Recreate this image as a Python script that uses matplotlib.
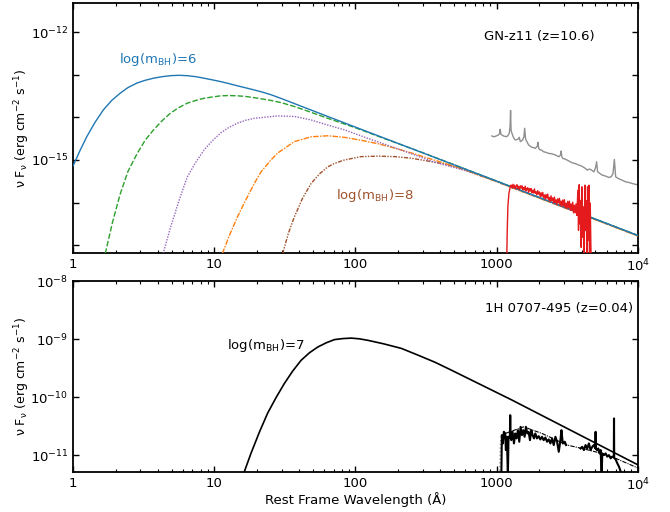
import numpy as np
import matplotlib
matplotlib.use("Agg")
import matplotlib.pyplot as plt
from matplotlib.ticker import FixedLocator, LogLocator, NullLocator, NullFormatter

# disc models for GN-z11, wavelength (A) vs nu F_nu
lam_m6 = [1.0, 1.12, 1.25, 1.43, 1.64, 1.88, 2.16, 2.45, 2.84, 3.24, 3.72, 4.27, 4.9, 5.62, 6.44, 7.41,
          8.45, 9.66, 11.1, 12.7, 14.6, 16.6, 19.2, 22, 25.2, 30, 40, 100, 1000, 1e4]
flux_m6 = [7.2e-16, 1.66e-15, 3.5e-15, 7.6e-15, 1.5e-14, 2.5e-14, 3.7e-14, 5.0e-14, 6.4e-14, 7.4e-14,
           8.3e-14, 9.0e-14, 9.5e-14, 9.7e-14, 9.5e-14, 9.0e-14, 8.3e-14, 7.6e-14, 6.9e-14, 6.2e-14,
           5.5e-14, 4.95e-14, 4.4e-14, 3.9e-14, 3.4e-14, 2.75e-14, 1.9e-14, 5.9e-15, 3.2e-16, 1.7e-17]

lam_m65 = [1.69, 1.905, 2.16, 2.45, 2.84, 3.24, 3.72, 4.27, 4.9, 5.62, 6.44, 7.41, 8.45, 9.66, 11.1,
           12.7, 14.6, 16.6, 19.2, 25.2, 30, 36.9, 48, 63.7, 100, 150, 300, 1000, 1e4]
flux_m65 = [6.3e-18, 3.5e-17, 1.6e-16, 5.4e-16, 1.4e-15, 2.9e-15, 5.1e-15, 8.3e-15, 1.26e-14, 1.7e-14,
            2.15e-14, 2.5e-14, 2.8e-14, 3.0e-14, 3.2e-14, 3.25e-14, 3.2e-14, 3.1e-14, 2.9e-14, 2.5e-14,
            2.2e-14, 1.8e-14, 1.33e-14, 9.5e-15, 5.7e-15, 3.45e-15, 1.48e-15, 3.2e-16, 1.7e-17]

lam_m7 = [4.34, 4.9, 5.62, 6.44, 7.41, 8.45, 9.66, 11.1, 12.7, 14.6, 16.6, 19.2, 25.2, 28.1, 36.9,
          48.5, 63.7, 83.6, 123, 212, 363, 700, 1e4]
flux_m7 = [6.3e-18, 2.6e-17, 1.1e-16, 4.0e-16, 8.9e-16, 1.7e-15, 2.8e-15, 4.3e-15, 5.8e-15, 7.3e-15,
           8.5e-15, 9.5e-15, 1.04e-14, 1.08e-14, 1.05e-14, 8.7e-15, 6.6e-15, 5.1e-15, 3.2e-15, 1.7e-15,
           8.9e-16, 4.9e-16, 1.7e-17]

lam_m75 = [11.4, 12.9, 14.6, 16.6, 19.2, 21.4, 25.2, 28.1, 32.4, 36.9, 42.7, 48.5, 63.7, 83.6, 110,
           145, 190, 251, 328, 565, 1000, 1e4]
flux_m75 = [6.3e-18, 1.8e-17, 4.6e-17, 1.1e-16, 2.8e-16, 5.2e-16, 1.0e-15, 1.45e-15, 2.0e-15, 2.7e-15,
            3.1e-15, 3.5e-15, 3.7e-15, 3.4e-15, 2.9e-15, 2.4e-15, 1.9e-15, 1.45e-15, 1.1e-15, 6.3e-16,
            3.1e-16, 1.65e-17]

lam_m8 = [30.5, 33.5, 36.9, 42.2, 48.5, 55.6, 63.7, 71, 83.6, 110, 144, 190, 249, 328, 431, 565, 1000, 1e4]
flux_m8 = [6.3e-18, 1.9e-17, 4.6e-17, 1.26e-16, 2.8e-16, 4.7e-16, 6.9e-16, 8.3e-16, 1.0e-15, 1.2e-15,
           1.23e-15, 1.2e-15, 1.1e-15, 9.4e-16, 8.0e-16, 6.2e-16, 3.1e-16, 1.65e-17]

# quasar template (grey)
grey_spec = np.array([
    [924, 3.66e-15], [960, 3.5e-15], [1000, 3.7e-15], [1031, 3.87e-15], [1050, 4.2e-15], [1060, 5.26e-15],
    [1072, 4.0e-15], [1089, 3.87e-15], [1130, 3.6e-15], [1182, 3.53e-15], [1210, 3.9e-15], [1228, 4.23e-15],
    [1245, 6.0e-15], [1255, 1.45e-14], [1265, 5.0e-15], [1283, 4.23e-15], [1320, 3.3e-15], [1354, 2.95e-15],
    [1415, 3.06e-15], [1446, 3.4e-15], [1471, 2.69e-15], [1528, 2.95e-15], [1560, 3.5e-15], [1579, 5.55e-15],
    [1600, 3.3e-15], [1614, 2.95e-15], [1686, 2.25e-15], [1730, 2.1e-15], [1780, 1.98e-15], [1830, 1.95e-15],
    [1879, 1.87e-15], [1940, 2.1e-15], [1963, 2.60e-15], [1985, 1.9e-15], [2007, 1.77e-15], [2080, 1.7e-15],
    [2154, 1.56e-15], [2250, 1.5e-15], [2338, 1.43e-15], [2450, 1.4e-15], [2609, 1.31e-15], [2754, 1.19e-15],
    [2830, 1.3e-15], [2861, 1.62e-15], [2895, 1.2e-15], [2941, 1.09e-15], [3050, 1.05e-15], [3157, 9.95e-16],
    [3300, 9.2e-16], [3427, 8.6e-16], [3600, 8.2e-16], [3822, 7.6e-16], [4000, 7.2e-16], [4264, 6.3e-16],
    [4381, 5.78e-16], [4500, 6.1e-16], [4628, 6.0e-16], [4886, 5.28e-16], [5021, 6.68e-16], [5104, 9.08e-16],
    [5188, 5.28e-16], [5400, 4.8e-16], [5601, 4.41e-16], [5900, 4.2e-16], [6245, 3.88e-16], [6500, 4.1e-16],
    [6672, 4.82e-16], [6819, 1.03e-15], [6966, 4.02e-16], [7250, 3.7e-16], [7557, 3.48e-16], [8207, 3.07e-16],
    [8700, 2.95e-16], [9154, 2.80e-16], [10000, 2.6e-16]])

# GN-z11 spectrum (red), log10 of nu F_nu
red_lam = [1176, 1189, 1201, 1221, 1241, 1255,
           1270, 1290, 1305, 1322, 1340, 1358, 1375, 1393, 1412, 1430, 1450, 1470, 1490, 1510, 1530, 1552,
           1573, 1594, 1616, 1638, 1660, 1683, 1706, 1730, 1753, 1777, 1801, 1826, 1851, 1876, 1902, 1928,
           1954, 1981, 2008, 2035, 2063, 2091, 2120, 2149, 2178, 2208, 2238, 2269, 2300, 2331, 2363, 2395,
           2428, 2461, 2495, 2529, 2564, 2599, 2634, 2670, 2707, 2744, 2782, 2820, 2858, 2897, 2937, 2977,
           3018, 3059, 3101, 3143, 3186, 3230, 3274, 3319, 3364, 3410, 3457, 3504, 3552, 3601, 3650, 3700,
           3760, 3801, 3843, 3885, 3928, 3971, 4014, 4058, 4103, 4149, 4217, 4264, 4311, 4358, 4405, 4454,
           4502, 4551, 4602, 4651, 4702]
red_logflux = [-17.5, -16.65, -16.10, -15.79, -15.67, -15.60,
               -15.59, -15.66, -15.57, -15.65, -15.59, -15.68, -15.62, -15.58, -15.67, -15.62, -15.69,
               -15.605, -15.66, -15.605, -15.70, -15.645, -15.70, -15.615, -15.73, -15.675, -15.65, -15.76,
               -15.67, -15.73, -15.67, -15.77, -15.71, -15.775, -15.68, -15.78, -15.745, -15.82, -15.72,
               -15.80, -15.75, -15.86, -15.77, -15.85, -15.76, -15.88, -15.82, -15.92, -15.81, -15.895,
               -15.80, -15.94, -15.88, -15.975, -15.84, -15.95, -15.89, -16.01, -15.87, -16.00, -15.935,
               -16.05, -15.91, -16.005, -15.90, -16.06, -15.965, -16.09, -15.94, -16.07, -15.93, -16.11,
               -16.015, -16.14, -15.97, -16.12, -15.965, -16.18, -16.03, -16.18, -15.99, -16.24, -16.06,
               -16.24, -16.03, -16.30,
               -15.71, -16.65, -15.58, -16.50, -15.95, -17.05, -15.63, -16.81, -16.10, -17.20, -15.59,
               -16.65, -15.95, -17.5, -15.63, -16.89, -15.59, -17.5, -16.01, -17.05, -17.5]

# 1H 0707-495: disc model, second model and observed spectrum
lam_m7b = [15.5, 16.3, 18.2, 20.9, 23.9, 27.4, 31.3, 35.9, 41.2, 47.2, 54.1, 61.9, 71.0, 81.3, 93.3,
           107, 123, 158, 212, 282, 365, 480, 1283, 1e4]
flux_m7b = [3.6e-12, 5.1e-12, 1.07e-11, 2.5e-11, 5.3e-11, 9.8e-11, 1.7e-10, 2.8e-10, 4.3e-10, 5.8e-10,
            7.3e-10, 8.6e-10, 9.8e-10, 1.02e-9, 1.04e-9, 1.01e-9, 9.5e-10, 8.3e-10, 6.9e-10, 5.2e-10,
            4.0e-10, 2.9e-10, 8.9e-11, 6.8e-12]

lam_alt = [1150, 1553, 2096, 3157, 4036, 5303, 6966, 1e4]
flux_alt = [2.36e-11, 3.07e-11, 2.36e-11, 1.49e-11, 1.30e-11, 1.10e-11, 8.8e-12, 6.0e-12]

lam_faint = [1050, 1060, 1075]
flux_faint = [4e-12, 1.3e-11, 2.2e-11]

obs_seg1 = np.array([
    [1080, 4.5e-12], [1089, 2.21e-11], [1107, 1.59e-11], [1125, 2.52e-11], [1150, 2.36e-11], [1163, 1.22e-11],
    [1182, 2.07e-11], [1201, 4.5e-12], [1214, 2.07e-11], [1240, 2.0e-11], [1248, 4.88e-11], [1256, 2.0e-11],
    [1269, 1.81e-11], [1297, 2.52e-11], [1326, 1.59e-11], [1355, 2.36e-11], [1384, 1.94e-11], [1415, 2.69e-11],
    [1446, 1.70e-11], [1478, 3.07e-11], [1511, 2.21e-11], [1544, 2.69e-11], [1578, 2.07e-11], [1613, 3.07e-11],
    [1649, 2.36e-11], [1685, 2.52e-11], [1722, 1.81e-11], [1761, 2.69e-11], [1799, 2.21e-11], [1839, 1.94e-11],
    [1879, 2.36e-11], [1932, 1.94e-11], [1985, 2.12e-11], [2040, 1.86e-11], [2096, 2.07e-11], [2154, 1.81e-11],
    [2214, 2.01e-11], [2275, 1.70e-11], [2338, 1.86e-11], [2403, 1.59e-11], [2469, 1.94e-11], [2537, 1.49e-11],
    [2608, 2.07e-11], [2680, 1.70e-11], [2754, 1.14e-11], [2830, 1.81e-11], [2877, 2.69e-11], [2940, 1.59e-11],
    [3039, 1.70e-11], [3105, 1.49e-11]])

obs_seg2 = np.array([
    [3928, 1.30e-11], [4036, 1.39e-11], [4148, 1.22e-11], [4263, 1.49e-11], [4381, 1.30e-11], [4502, 1.59e-11],
    [4627, 1.22e-11], [4754, 1.39e-11], [4886, 1.49e-11], [5000, 1.3e-11], [5021, 2.52e-11], [5040, 1.3e-11],
    [5132, 1.22e-11], [5245, 1.30e-11], [5360, 1.07e-11], [5449, 1.22e-11], [5540, 4.5e-12], [5601, 1.07e-11],
    [5755, 1.00e-11], [5914, 1.07e-11], [6077, 9.4e-12], [6245, 1.00e-11], [6417, 8.8e-12], [6596, 9.4e-12],
    [6760, 9.2e-12], [6780, 4.28e-11], [6800, 9.0e-12], [6966, 8.4e-12], [7159, 7.2e-12], [7357, 6.3e-12],
    [7560, 5.2e-12], [7640, 4.5e-12]])

xticks = [1, 10, 100, 1000, 1e4]
xticklabels = ['1', '10', '100', '1000', r'$10^4$']
top_yticks = [1e-15, 1e-12]
top_yticklabels = [r'$10^{-15}$', r'$10^{-12}$']
top_yticks_unlabelled = [1e-17, 1e-16, 1e-14, 1e-13]

plt.rcParams['font.family'] = ['DejaVu Sans']
plt.rcParams['font.size'] = 9
plt.rcParams['mathtext.default'] = 'regular'
plt.rcParams['xtick.direction'] = 'in'
plt.rcParams['ytick.direction'] = 'in'
plt.rcParams['xtick.top'] = True
plt.rcParams['ytick.right'] = True

fig = plt.figure(figsize=(6.7, 5.12), dpi=100)
ax1 = fig.add_axes([0.109, 0.506, 0.843, 0.488])
ax2 = fig.add_axes([0.109, 0.078, 0.843, 0.373])

# blue on top where the models merge
ax1.plot(lam_m6, flux_m6, color='#1f77b4', lw=1, zorder=7)
ax1.plot(lam_m65, flux_m65, color='#2ca02c', lw=1, ls=(0, (4, 1.5)), zorder=6)
ax1.plot(lam_m7, flux_m7, color='#9467bd', lw=1, ls=(0, (1, 1)), zorder=5)
ax1.plot(lam_m75, flux_m75, color='#ff7f0e', lw=1, ls=(0, (4, 1, 1, 1)), zorder=4)
ax1.plot(lam_m8, flux_m8, color='#a0522d', lw=1, ls=(0, (3, 1, 1, 1, 1, 1)), zorder=3)
ax1.plot(grey_spec[:, 0], grey_spec[:, 1], color='#8f8f8f', lw=1, zorder=2)
ax1.plot(red_lam, 10 ** np.array(red_logflux), color='#e41a1c', lw=1, zorder=8)

ax1.text(2.10, 2.27e-13, r'log(m$_{BH}$)=6', color='#1f77b4', fontsize=9.5, va='center')
ax1.text(73, 1.48e-16, r'log(m$_{BH}$)=8', color='#a0522d', fontsize=9.5, va='center')
ax1.text(0.924, 0.865, 'GN-z11 (z=10.6)', transform=ax1.transAxes, ha='right', va='center', fontsize=9.5)

ax2.plot(lam_m7b, flux_m7b, color='k', lw=1.2)
ax2.plot(lam_alt, flux_alt, color='k', lw=0.8, ls=(0, (4, 1, 1, 1)))
ax2.plot(lam_faint, flux_faint, color='#999999', lw=1, ls=':')
ax2.plot(obs_seg1[:, 0], obs_seg1[:, 1], color='k', lw=1.5)
ax2.plot(obs_seg2[:, 0], obs_seg2[:, 1], color='k', lw=1.5)

ax2.text(12.4, 7.8e-10, r'log(m$_{BH}$)=7', va='center', fontsize=9.5)
ax2.text(0.991, 0.857, '1H 0707-495 (z=0.04)', transform=ax2.transAxes, ha='right', va='center',
         fontsize=9.5)

for ax in (ax1, ax2):
    ax.set_xscale('log')
    ax.set_yscale('log')
    ax.set_xlim(1, 1e4)
    ax.set_xticks(xticks)
    ax.set_xticklabels(xticklabels)
    ax.xaxis.set_minor_locator(LogLocator(base=10, subs=np.arange(2, 10)))
    ax.xaxis.set_minor_formatter(NullFormatter())
    ax.tick_params(which='major', length=4, width=1, labelsize=9.5)
    ax.tick_params(which='minor', length=2, width=0.8)
    for sp in ax.spines.values():
        sp.set_linewidth(1.3)
    ax.set_ylabel(r'ν F$_ν$ (erg cm$^{-2}$ s$^{-1}$)', fontsize=9)
    ax.yaxis.set_label_coords(-0.072, 0.5)

ax1.set_ylim(6.6e-18, 4.8e-12)
ax1.set_yticks(top_yticks)
ax1.set_yticklabels(top_yticklabels)
ax1.yaxis.set_minor_locator(FixedLocator(top_yticks_unlabelled))
ax1.yaxis.set_minor_formatter(NullFormatter())
ax1.tick_params(axis='y', which='minor', length=4, width=1)

ax2.set_ylim(5.1e-12, 1e-8)
ax2.yaxis.set_minor_locator(NullLocator())
ax2.yaxis.set_minor_formatter(NullFormatter())
ax2.set_xlabel('Rest Frame Wavelength (Å)', fontsize=9.5)
ax2.xaxis.set_label_coords(0.5, -0.105)

fig.savefig('out.png', dpi=100)
